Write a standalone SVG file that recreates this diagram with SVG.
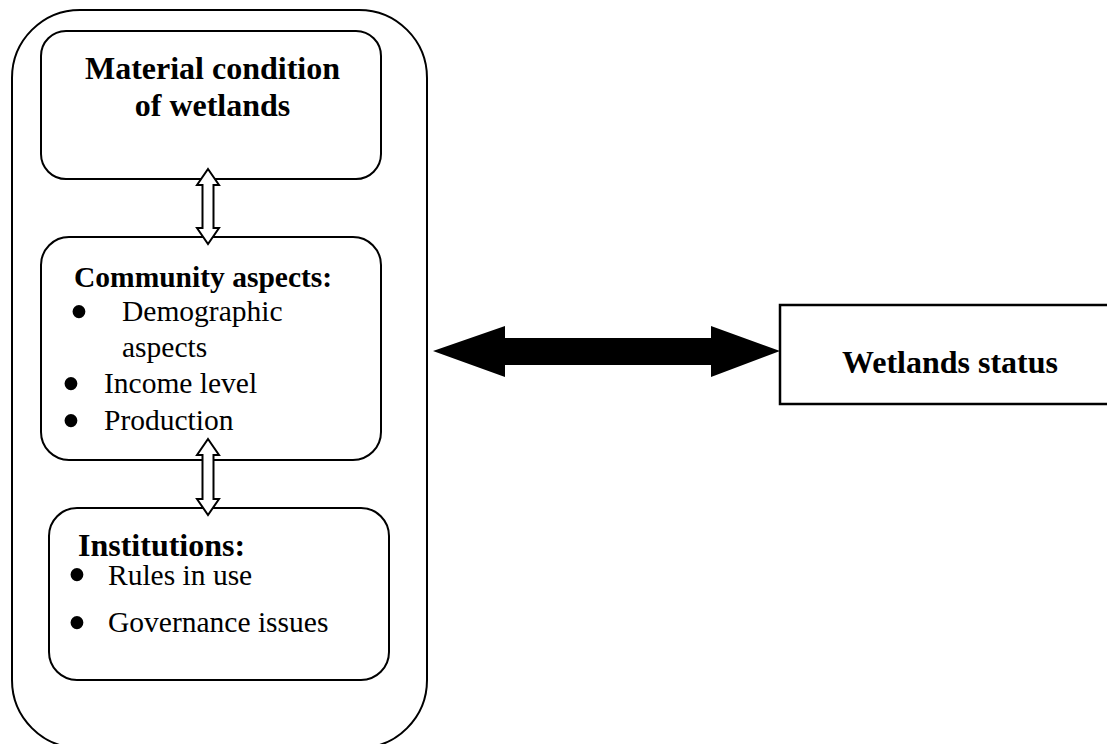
<svg xmlns="http://www.w3.org/2000/svg" width="1107" height="744" viewBox="0 0 1107 744">
<style>
.box{fill:#fff;stroke:#000;stroke-width:2}
.b{font-family:"Liberation Serif","Times New Roman",serif;font-weight:bold;fill:#000}
.r{font-family:"Liberation Serif","Times New Roman",serif;fill:#000;font-size:29.5px}
.bul{font-family:"Liberation Serif","Times New Roman",serif;fill:#000;font-size:54px}
.hollow{fill:#fff;stroke:#000;stroke-width:2;stroke-linejoin:miter}
</style>
<rect width="1107" height="744" fill="#fff"/>
<g id="outer">
<rect class="box" x="12" y="10" width="415" height="738" rx="68" ry="68"/>
</g>
<g id="material">
<rect class="box" x="41" y="31" width="340" height="148" rx="25" ry="25"/>
<text class="b" x="212.5" y="79" font-size="32" text-anchor="middle">Material condition</text>
<text class="b" x="212.5" y="116" font-size="32" text-anchor="middle">of wetlands</text>
</g>
<g id="community">
<rect class="box" x="41" y="237" width="340" height="223" rx="28" ry="28"/>
<text class="b" x="74" y="287" font-size="29.5">Community aspects:</text>
<text class="bul" x="79" y="330" text-anchor="middle">•</text>
<text class="r" x="122" y="321">Demographic</text>
<text class="r" x="122" y="357">aspects</text>
<text class="bul" x="71" y="402" text-anchor="middle">•</text>
<text class="r" x="104" y="393">Income level</text>
<text class="bul" x="71" y="439" text-anchor="middle">•</text>
<text class="r" x="104" y="430">Production</text>
</g>
<g id="institutions">
<rect class="box" x="49" y="508" width="340" height="172" rx="28" ry="28"/>
<text class="b" x="78" y="556" font-size="32">Institutions:</text>
<text class="bul" x="77" y="593" text-anchor="middle">•</text>
<text class="r" x="108" y="585">Rules in use</text>
<text class="bul" x="77" y="641" text-anchor="middle">•</text>
<text class="r" x="108" y="632">Governance issues</text>
</g>
<g id="wetlands-status">
<rect x="780" y="305" width="345" height="99" fill="#fff" stroke="#000" stroke-width="2.5"/>
<text class="b" x="950" y="373" font-size="32" text-anchor="middle">Wetlands status</text>
</g>
<g id="connectors">
<path class="hollow" d="M208,169 L219,185 L213.5,185 L213.5,228 L219,228 L208,244 L197,228 L202.5,228 L202.5,185 L197,185 Z"/>
<path class="hollow" d="M208,439 L219,455 L213.5,455 L213.5,499 L219,499 L208,515 L197,499 L202.5,499 L202.5,455 L197,455 Z"/>
<path fill="#000" d="M433,351 L505,326 L505,338 L711,338 L711,326 L780,351 L711,377 L711,365 L505,365 L505,377 Z"/>
</g>
</svg>
